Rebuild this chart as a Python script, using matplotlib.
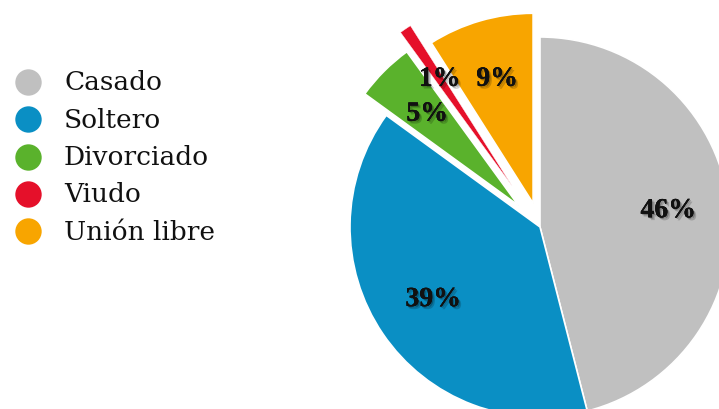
import matplotlib
matplotlib.use("Agg")
import matplotlib.pyplot as plt
import matplotlib.patheffects as pe

# Marital status distribution
categories = ["Casado", "Soltero", "Divorciado", "Viudo", "Unión libre"]
values = [46, 39, 5, 1, 9]
colors = ["#C0C0C0", "#0A8FC4", "#5AB22C", "#E5102A", "#F8A500"]
explode_frac = [0, 0, 0.16, 0.26, 0.13]

W, H = 719, 410
radius = 190
fig = plt.figure(figsize=(W / 100, H / 100), dpi=100)
ax = fig.add_axes([0, 0, 1, 1])

shadow = [
    pe.withSimplePatchShadow(offset=(2.0, -2.0), shadow_rgbFace="black", alpha=0.18),
    pe.withSimplePatchShadow(offset=(1.0, -1.0), shadow_rgbFace="black", alpha=0.25),
    pe.Normal(),
]

# pie() takes the explode offsets in data units
wedges, texts, autotexts = ax.pie(
    values,
    colors=colors,
    explode=[f * radius for f in explode_frac],
    startangle=90,
    counterclock=False,
    center=(540, 182),
    radius=radius,
    autopct=lambda p: f"{p:.0f}%",
    pctdistance=0.68,
    wedgeprops=dict(edgecolor="white", linewidth=1.2),
    frame=True,
)
# keep the thin slice visible all the way to its tip
wedges[3].set_linewidth(0.3)

for t in autotexts:
    t.set_fontfamily("Liberation Serif")
    t.set_fontweight("bold")
    t.set_fontsize(20)
    t.set_color("#111111")
    t.set_path_effects(shadow)

# Legend drawn as markers with labels
leg_x, leg_text_x = 28, 64
leg_y0, leg_dy = H - 83, 37.3
for i, (name, col) in enumerate(zip(categories, colors)):
    y = leg_y0 - i * leg_dy
    ax.plot(leg_x, y, "o", ms=19, color=col, mec="none")
    ax.text(leg_text_x, y, name, fontfamily="DejaVu Serif", fontsize=19,
            va="center", ha="left", color="#111111")

ax.set_xlim(0, W)
ax.set_ylim(0, H)
ax.set_aspect("equal")
ax.axis("off")

fig.savefig("out.png", dpi=100)
